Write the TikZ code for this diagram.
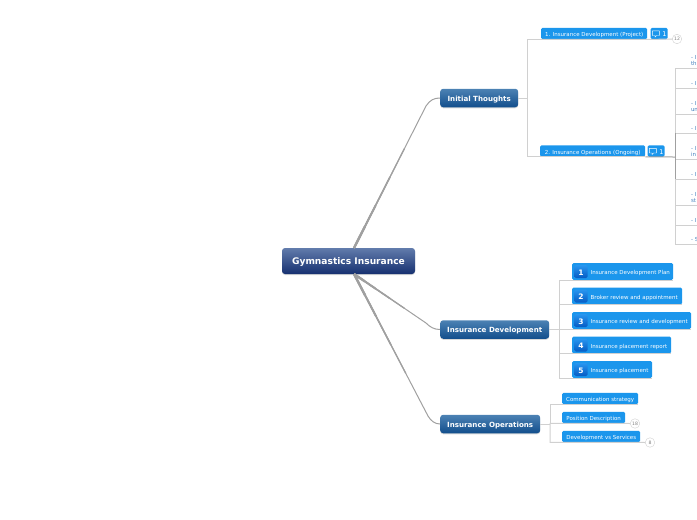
\documentclass[tikz,border=0pt]{standalone}
\usepackage{fontspec}
\setmainfont{DejaVu Sans}
\usetikzlibrary{arrows.meta,positioning,shadows,calc}
\definecolor{hubtop}{RGB}{98,124,172}
\definecolor{hubbot}{RGB}{22,48,112}
\definecolor{maintop}{RGB}{76,130,180}
\definecolor{mainbot}{RGB}{18,78,140}
\definecolor{subblue}{RGB}{27,150,236}
\definecolor{badgetop}{RGB}{40,150,240}
\definecolor{badgebot}{RGB}{6,92,196}
\definecolor{leaftext}{RGB}{70,130,190}
\definecolor{linegray}{RGB}{208,208,208}
\definecolor{trunkgray}{RGB}{160,160,160}
\tikzset{
  hubbox/.style={rounded corners=3pt,top color=hubtop,bottom color=hubbot,text=white,font=\bfseries\fontsize{9.1}{10}\selectfont,text height=1.3ex,text depth=.1ex,minimum width=133pt,minimum height=26pt,inner sep=0pt,drop shadow={shadow xshift=0pt,shadow yshift=-1pt,opacity=.3}},
  mainbox/.style={rounded corners=3pt,top color=maintop,bottom color=mainbot,text=white,font=\bfseries\fontsize{7.1}{8}\selectfont,text height=1.3ex,text depth=.1ex,minimum height=18.5pt,inner sep=0pt,anchor=west,drop shadow={shadow xshift=0pt,shadow yshift=-1pt,opacity=.3}},
  subbox/.style={rounded corners=1.5pt,fill=subblue,text=white,font=\fontsize{5.5}{6}\selectfont,text height=1.3ex,text depth=.1ex,minimum height=11.5pt,inner sep=0pt,anchor=west},
  numtext/.style={text=white,font=\fontsize{5.5}{6}\selectfont,text height=1.3ex,text depth=.1ex,inner sep=0pt,anchor=west},
  badge/.style={rounded corners=1.5pt,top color=badgetop,bottom color=badgebot,text=white,font=\bfseries\fontsize{7.5}{8}\selectfont,text height=1.3ex,text depth=0pt,minimum width=13pt,minimum height=13pt,inner sep=0pt},
  notebox/.style={subbox,text width=15pt,inner xsep=1pt,minimum width=17pt,font=\fontsize{6.5}{7}\selectfont,align=right},
  leaf/.style={text=leaftext,font=\fontsize{5.5}{6.2}\selectfont,anchor=south east,text width=6pt,align=left,inner xsep=0pt,inner ysep=2.5pt,outer sep=0pt},
  morecount/.style={circle,draw=linegray,fill=white,text=gray,font=\fontsize{4.6}{5}\selectfont,minimum size=9.5pt,inner sep=0pt},
  elbow/.style={draw=linegray,line width=1pt},
  trunk/.style={draw=trunkgray,line width=1pt}
}
\newcommand{\notebubble}[1]{%
  \draw[white,line width=.45pt,line join=round] ([xshift=2pt,yshift=2.6pt]#1.west) -- ++(7pt,0) -- ++(0,-4.6pt) -- ++(-3pt,0) -- ++(-1.4pt,-1.6pt) -- ++(0,1.6pt) -- ++(-2.6pt,0) -- cycle;
}
\begin{document}
\begin{tikzpicture}[x=1pt,y=1pt]
\useasboundingbox (0,0) rectangle (697,-520);
% centre and main branches
\node[hubbox] (hub) at (348.5,-261) {Gymnastics Insurance};
\node[mainbox,minimum width=78pt] (thoughts) at (440,-98) {Initial Thoughts};
\node[mainbox,minimum width=109pt] (develop) at (440,-329.5) {Insurance Development};
\node[mainbox,minimum width=100pt] (operate) at (440,-424) {Insurance Operations};
\coordinate (hubup) at (354,-248);
\coordinate (hubdown) at (354,-274);
\coordinate (bendup) at (426,-106);
\coordinate (benddev) at (426,-323);
\coordinate (bendops) at (428,-416);
\draw[trunk] (hubup) -- (bendup) .. controls (430,-100) and (434,-98) .. (thoughts.west);
\draw[trunk] (hubdown) -- (benddev) .. controls (430,-327) and (434,-329.5) .. (develop.west);
\draw[trunk] (hubdown) -- (bendops) .. controls (431,-421) and (435,-424) .. (operate.west);
\foreach \t/\w in {.7/1.3pt,.5/1.6pt,.3/2pt,.15/2.4pt}{
  \draw[trunk,line width=\w] (hubup) -- ($(hubup)!\t!(bendup)$);
  \draw[trunk,line width=\w] (hubdown) -- ($(hubdown)!\t!(benddev)$);
  \draw[trunk,line width=\w] (hubdown) -- ($(hubdown)!\t!(bendops)$);
}
% initial thoughts
\node[subbox,minimum width=106pt] (project) at (541,-33.5) {1. Insurance Development (Project)};
\node[notebox,right=3pt of project,anchor=west] (projectnote) {1};
\notebubble{projectnote}
\node[subbox,minimum width=105pt] (ongoing) at (540,-151) {2. Insurance Operations (Ongoing)};
\node[notebox,right=2pt of ongoing,anchor=west] (ongoingnote) {1};
\notebubble{ongoingnote}
\node[morecount] (projectmore) at (677,-39) {12};
\coordinate (thoughtsjoin) at (527,-98);
\draw[elbow] (thoughts.east) -- (thoughtsjoin);
\draw[elbow] (project.south west) -| (thoughtsjoin);
\draw[elbow] (ongoing.south west) -| (thoughtsjoin);
\draw[elbow] (project.south west) -- (project.south east) -- (projectmore.west);
\draw[elbow] (ongoing.south west) -- (ongoing.south east);
% leaves cut off by the page edge
\node[leaf] (leafa) at (697,-68) {\mbox{- I}\\th};
\node[leaf] (leafb) at (697,-88) {\mbox{- I}};
\node[leaf] (leafc) at (697,-114) {\mbox{- I}\\un};
\node[leaf] (leafd) at (697,-133) {\mbox{- I}};
\node[leaf] (leafe) at (697,-159) {\mbox{- I}\\in};
\node[leaf] (leaff) at (697,-179) {\mbox{- I}};
\node[leaf] (leafg) at (697,-205) {\mbox{- I}\\st};
\node[leaf] (leafh) at (697,-225) {\mbox{- I}};
\node[leaf] (leafi) at (697,-244) {\mbox{- S}};
\coordinate (ongoingjoin) at (675,-157);
\draw[draw=trunkgray,line width=1pt] (ongoing.south east) -- (ongoingjoin);
\foreach \n in {a,b,c,d,e,f,g,h,i}
  \draw[elbow] (ongoingjoin) |- (leaf\n.south east);
\draw[draw=trunkgray,line width=1pt] (675,-133) -- (675,-179);
% development steps
\foreach \n/\y/\w/\t in {1/-271.5/101pt/Insurance Development Plan,2/-296/110pt/Broker review and appointment,3/-320.5/119pt/Insurance review and development,4/-345/99pt/Insurance placement report,5/-369.5/80pt/Insurance placement}{
  \node[subbox,minimum height=17pt,minimum width=\w] (stepbox\n) at (572,\y) {};
  \node[badge] (badge\n) at (581,\y) {\n};
  \node[numtext] (steptext\n) at (590.5,\y) {\t};
}
\coordinate (developjoin) at (559,-329.5);
\draw[elbow] (develop.east) -- (developjoin);
\foreach \n in {1,...,5}
  \draw[elbow] (developjoin) |- (stepbox\n.south west) -- (stepbox\n.south east);
% operations topics
\node[subbox,minimum width=76pt] (comms) at (562,-398.5) {Communication strategy};
\node[subbox,minimum width=63pt] (position) at (562,-417.5) {Position Description};
\node[subbox,minimum width=78pt] (services) at (562,-436.5) {Development vs Services};
\node[morecount] (positionmore) at (635,-423.5) {18};
\node[morecount] (servicesmore) at (650,-442.5) {8};
\coordinate (operatejoin) at (550,-424);
\draw[elbow] (operate.east) -- (operatejoin);
\draw[elbow] (operatejoin) |- (comms.south west) -- (comms.south east);
\draw[elbow] (operatejoin) |- (position.south west) -- (position.south east) -- (positionmore.west);
\draw[elbow] (operatejoin) |- (services.south west) -- (services.south east) -- (servicesmore.west);
\end{tikzpicture}
\end{document}
